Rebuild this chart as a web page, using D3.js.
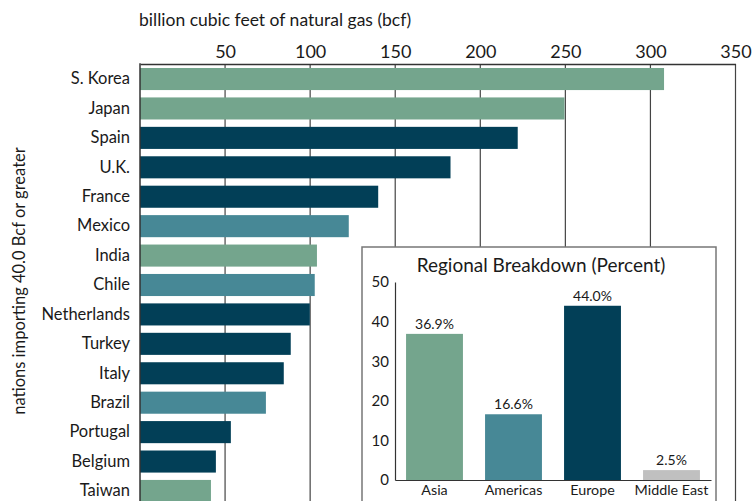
<!DOCTYPE html>
<html>
<head>
<meta charset="utf-8">
<script src="https://cdn.jsdelivr.net/npm/d3@7"></script>
<style>
  body { margin: 0; background: #fff; }
  text { font-family: Lato, "Open Sans", sans-serif; fill: #1a1a1a; }
</style>
</head>
<body>
<script>
var countries = ["S. Korea", "Japan", "Spain", "U.K.", "France", "Mexico", "India", "Chile",
    "Netherlands", "Turkey", "Italy", "Brazil", "Portugal", "Belgium", "Taiwan"];
var imports = [308, 249.5, 222, 182.5, 140, 122.7, 104, 102.7, 99.8, 88.6, 84.5, 74, 53.4, 44.6, 41.7];
var countryRegion = ["Asia", "Asia", "Europe", "Europe", "Europe", "Americas", "Asia", "Americas",
    "Europe", "Europe", "Europe", "Americas", "Europe", "Europe", "Asia"];
var xTicks = [50, 100, 150, 200, 250, 300, 350];

var regions = ["Asia", "Americas", "Europe", "Middle East"];
var regionShare = [36.9, 16.6, 44.0, 2.5];
var shareTicks = [0, 10, 20, 30, 40, 50];

var color = d3.scaleOrdinal()
    .domain(regions)
    .range(["#74a58d", "#478896", "#023f57", "#c0c0c0"]);

var width = 753, height = 501;

var svg = d3.select("body").append("svg")
    .attr("width", width)
    .attr("height", height);

// main chart
var top0 = 64;
var x = d3.scaleLinear().domain([0, 350]).range([140, 735.5]);
var y = d3.scaleBand().domain(countries).range([top0, 506]).paddingInner(0.25).paddingOuter(0.136);

var grid = svg.append("g");
grid.selectAll("line")
    .data(xTicks)
    .enter().append("line")
    .attr("x1", function(d) { return x(d); })
    .attr("x2", function(d) { return x(d); })
    .attr("y1", top0)
    .attr("y2", height)
    .attr("stroke", "#444")
    .attr("stroke-width", 1.2);

svg.append("g")
    .selectAll("rect")
    .data(countries)
    .enter().append("rect")
    .attr("x", x(0))
    .attr("y", function(d) { return y(d); })
    .attr("width", function(d, i) { return x(imports[i]) - x(0); })
    .attr("height", y.bandwidth())
    .attr("fill", function(d, i) { return color(countryRegion[i]); });

// top axis
var xAxis = svg.append("g")
    .attr("transform", "translate(0," + top0 + ")")
    .call(d3.axisTop(x).tickValues(xTicks).tickSize(0).tickPadding(6));
xAxis.select(".domain").attr("stroke", "#333").attr("stroke-width", 1.5);
xAxis.selectAll("text").style("font-size", "18px").attr("fill", "#1a1a1a");

// left axis
var yAxis = svg.append("g")
    .attr("transform", "translate(140,0)")
    .call(d3.axisLeft(y).tickSize(0).tickPadding(10));
yAxis.select(".domain").remove();
yAxis.selectAll("text").style("font-size", "16.5px").attr("fill", "#1a1a1a");
svg.append("line")
    .attr("x1", 140).attr("x2", 140)
    .attr("y1", top0 - 0.7).attr("y2", height)
    .attr("stroke", "#333").attr("stroke-width", 1.5);

svg.append("text")
    .attr("x", 139)
    .attr("y", 26)
    .style("font-size", "17.5px")
    .text("billion cubic feet of natural gas (bcf)");

svg.append("text")
    .attr("transform", "translate(25,281) rotate(-90)")
    .attr("text-anchor", "middle")
    .style("font-size", "16.5px")
    .text("nations importing 40.0 Bcf or greater");

// inset
var inset = svg.append("g");
inset.append("rect")
    .attr("x", 362)
    .attr("y", 247)
    .attr("width", 354)
    .attr("height", 280)
    .attr("fill", "#fff")
    .attr("stroke", "#777")
    .attr("stroke-width", 1.5);

inset.append("text")
    .attr("x", 541)
    .attr("y", 272)
    .attr("text-anchor", "middle")
    .style("font-size", "19px")
    .text("Regional Breakdown (Percent)");

var bx = d3.scaleBand().domain(regions).range([395, 711]).paddingInner(0.28).paddingOuter(0.14);
var by = d3.scaleLinear().domain([0, 50]).range([480, 282]);

inset.append("g")
    .selectAll("rect")
    .data(regions)
    .enter().append("rect")
    .attr("x", function(d) { return bx(d); })
    .attr("y", function(d, i) { return by(regionShare[i]); })
    .attr("width", bx.bandwidth())
    .attr("height", function(d, i) { return by(0) - by(regionShare[i]); })
    .attr("fill", function(d) { return color(d); });

inset.append("g")
    .selectAll("text")
    .data(regions)
    .enter().append("text")
    .attr("x", function(d) { return bx(d) + bx.bandwidth() / 2; })
    .attr("y", function(d, i) { return by(regionShare[i]) - 5; })
    .attr("text-anchor", "middle")
    .style("font-size", "14px")
    .text(function(d, i) { return regionShare[i].toFixed(1) + "%"; });

var byAxis = inset.append("g")
    .attr("transform", "translate(395,0)")
    .call(d3.axisLeft(by).tickValues(shareTicks).tickSize(0).tickPadding(6));
byAxis.select(".domain").attr("stroke", "#333").attr("stroke-width", 1.2);
byAxis.selectAll("text").style("font-size", "15px").attr("fill", "#1a1a1a");

var bxAxis = inset.append("g")
    .attr("transform", "translate(0,480)")
    .call(d3.axisBottom(bx).tickSize(0).tickPadding(5));
bxAxis.select(".domain").attr("stroke", "#333").attr("stroke-width", 1.2);
bxAxis.selectAll("text").style("font-size", "14.3px").attr("fill", "#1a1a1a");
</script>
</body>
</html>
